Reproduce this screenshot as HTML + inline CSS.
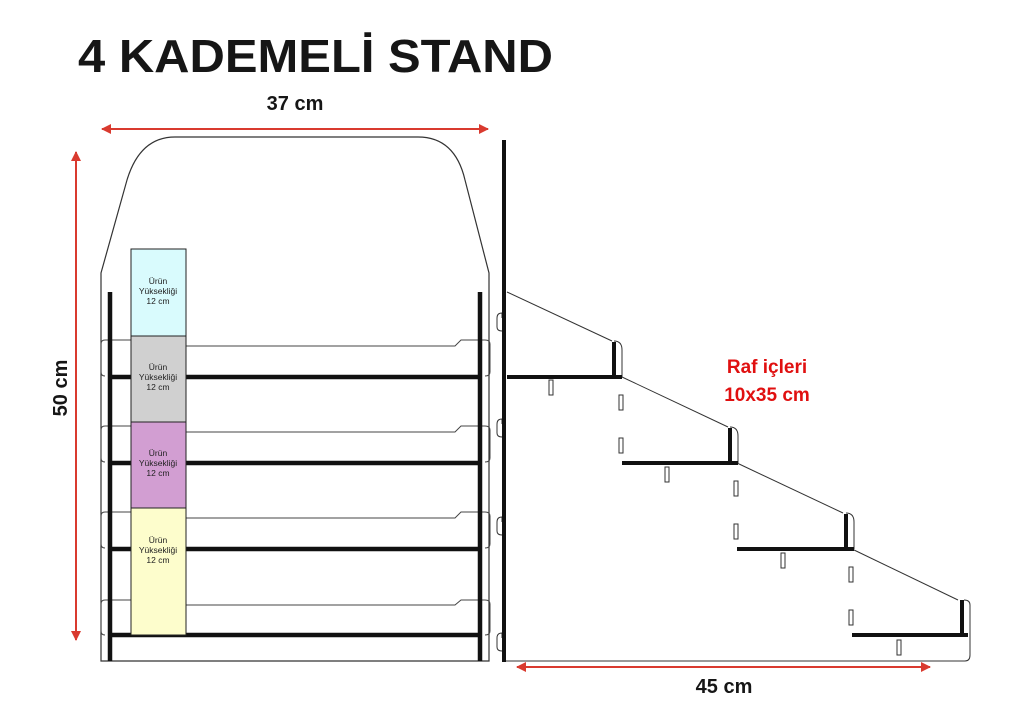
<!DOCTYPE html>
<html><head><meta charset="utf-8"><style>
html,body{margin:0;padding:0;background:#fff;}
svg{display:block;}
text{font-family:"Liberation Sans",sans-serif;}
</style></head><body>
<svg width="1012" height="717" viewBox="0 0 1012 717" xmlns="http://www.w3.org/2000/svg">
<defs>
<marker id="ar" markerWidth="10" markerHeight="10" refX="9" refY="5" orient="auto-start-reverse" markerUnits="userSpaceOnUse">
<path d="M0,0 L10,5 L0,10 z" fill="#d93a2f"/>
</marker>
</defs>
<text x="78" y="72" font-size="46" font-weight="bold" fill="#161616" textLength="475" lengthAdjust="spacingAndGlyphs">4 KADEMELİ STAND</text>

<line x1="102" y1="129" x2="488" y2="129" stroke="#d93a2f" stroke-width="2" marker-start="url(#ar)" marker-end="url(#ar)"/>
<text x="295" y="110" font-size="20" font-weight="bold" text-anchor="middle" fill="#161616">37 cm</text>
<line x1="76" y1="152" x2="76" y2="640" stroke="#d93a2f" stroke-width="2" marker-start="url(#ar)" marker-end="url(#ar)"/>
<text transform="translate(67,388) rotate(-90)" font-size="20" font-weight="bold" text-anchor="middle" fill="#161616">50 cm</text>
<line x1="517" y1="667" x2="930" y2="667" stroke="#d93a2f" stroke-width="2" marker-start="url(#ar)" marker-end="url(#ar)"/>
<text x="724" y="693" font-size="20" font-weight="bold" text-anchor="middle" fill="#161616">45 cm</text>

<path d="M101,661 L101,273 L127,180 Q140,137 175,137 L418,137 Q455,137 465,180 L489,273 L489,661 Z" fill="none" stroke="#333" stroke-width="1.2"/>

<g fill="none" stroke="#444" stroke-width="1">
<path d="M131,340 L105,340 Q101,340 101,344 L101,372 Q101,376 105,376 M186,346 L455,346 L461,340 L485,340 Q490,340 490,344 L490,372 Q490,376 485,376"/>
<path d="M131,426 L105,426 Q101,426 101,430 L101,458 Q101,462 105,462 M186,432 L455,432 L461,426 L485,426 Q490,426 490,430 L490,458 Q490,462 485,462"/>
<path d="M131,512 L105,512 Q101,512 101,516 L101,544 Q101,548 105,548 M186,518 L455,518 L461,512 L485,512 Q490,512 490,516 L490,544 Q490,548 485,548"/>
<path d="M131,600 L105,600 Q101,600 101,604 L101,631 Q101,635 105,635 M186,605 L455,605 L461,600 L485,600 Q490,600 490,604 L490,631 Q490,635 485,635"/>
</g>
<g stroke="#111" stroke-width="4.5">
<line x1="110" y1="292" x2="110" y2="661"/>
<line x1="480" y1="292" x2="480" y2="661"/>
<line x1="110" y1="377" x2="480" y2="377"/>
<line x1="110" y1="463" x2="480" y2="463"/>
<line x1="110" y1="549" x2="480" y2="549"/>
<line x1="110" y1="635" x2="480" y2="635"/>
</g>

<rect x="131" y="249" width="55" height="87" fill="#d9fbfd" stroke="#222" stroke-width="1"/>
<rect x="131" y="336" width="55" height="86" fill="#d0d0d0" stroke="#222" stroke-width="1"/>
<rect x="131" y="422" width="55" height="86" fill="#d29ed2" stroke="#222" stroke-width="1"/>
<rect x="131" y="508" width="55" height="127" fill="#fdfdcc" stroke="#222" stroke-width="1"/>
<g font-size="8.5" text-anchor="middle" fill="#222">
<text x="158" y="284">Ürün</text><text x="158" y="294">Yüksekliği</text><text x="158" y="304">12 cm</text>
<text x="158" y="370">Ürün</text><text x="158" y="380">Yüksekliği</text><text x="158" y="390">12 cm</text>
<text x="158" y="456">Ürün</text><text x="158" y="466">Yüksekliği</text><text x="158" y="476">12 cm</text>
<text x="158" y="543">Ürün</text><text x="158" y="553">Yüksekliği</text><text x="158" y="563">12 cm</text>
</g>

<g fill="none" stroke="#333" stroke-width="1">
<path d="M504,661 L965,661 Q970,661 970,655 L970,605 Q970,600 964,600"/>
<line x1="507" y1="292" x2="612" y2="341"/>
<line x1="622" y1="377" x2="728" y2="427"/>
<line x1="737" y1="463" x2="843" y2="513"/>
<line x1="852" y1="549" x2="958" y2="600"/>
<path d="M614,341 Q622,341 622,350 L622,377"/>
<path d="M730,427 Q738,427 738,436 L738,463"/>
<path d="M846,513 Q854,513 854,522 L854,549"/>
<path d="M502,313 Q497,313 497,318 L497,327 Q497,331 502,331 M502,313 L502,318"/>
<path d="M502,419 Q497,419 497,424 L497,433 Q497,437 502,437 M502,419 L502,424"/>
<path d="M502,517 Q497,517 497,522 L497,531 Q497,535 502,535 M502,517 L502,522"/>
<path d="M502,633 Q497,633 497,638 L497,647 Q497,651 502,651 M502,633 L502,638"/>
<rect x="549" y="380" width="4" height="15"/>
<rect x="619" y="395" width="4" height="15"/>
<rect x="619" y="438" width="4" height="15"/>
<rect x="665" y="467" width="4" height="15"/>
<rect x="734" y="481" width="4" height="15"/>
<rect x="734" y="524" width="4" height="15"/>
<rect x="781" y="553" width="4" height="15"/>
<rect x="849" y="567" width="4" height="15"/>
<rect x="849" y="610" width="4" height="15"/>
<rect x="897" y="640" width="4" height="15"/>
</g>
<g stroke="#111" stroke-width="4">
<line x1="504" y1="140" x2="504" y2="662"/>
<line x1="507" y1="377" x2="622" y2="377"/>
<line x1="614" y1="342" x2="614" y2="377"/>
<line x1="622" y1="463" x2="738" y2="463"/>
<line x1="730" y1="428" x2="730" y2="463"/>
<line x1="737" y1="549" x2="854" y2="549"/>
<line x1="846" y1="514" x2="846" y2="549"/>
<line x1="852" y1="635" x2="968" y2="635"/>
<line x1="962" y1="600" x2="962" y2="635"/>
</g>
<g font-size="19" font-weight="bold" fill="#e01010" text-anchor="middle">
<text x="767" y="373">Raf içleri</text>
<text x="767" y="401">10x35 cm</text>
</g>
</svg>
</body></html>
